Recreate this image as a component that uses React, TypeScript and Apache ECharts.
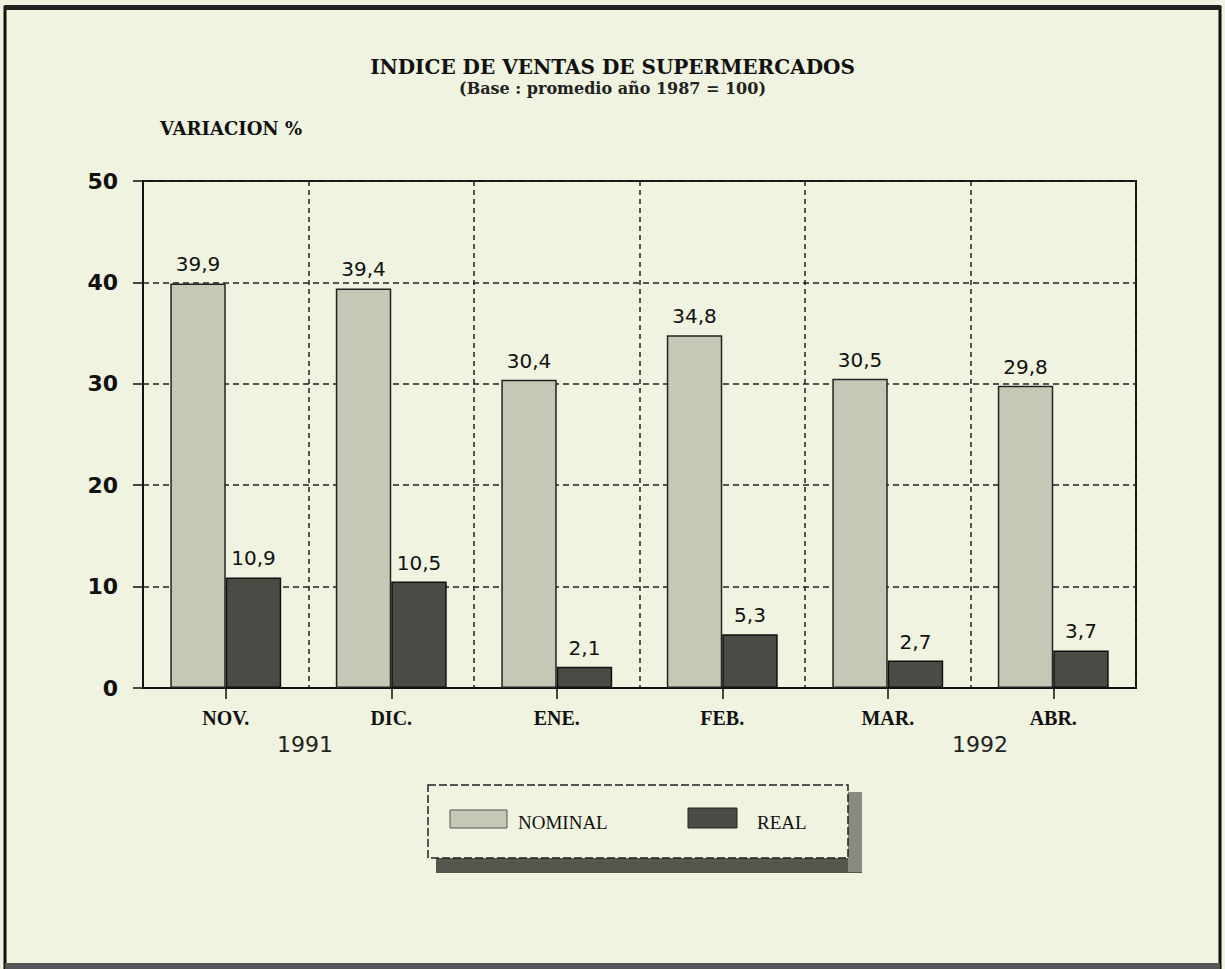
import React, { useEffect, useRef } from "react";
import * as echarts from "echarts";

const categories = ["NOV.", "DIC.", "ENE.", "FEB.", "MAR.", "ABR."];
const nominal = [39.9, 39.4, 30.4, 34.8, 30.5, 29.8];
const real = [10.9, 10.5, 2.1, 5.3, 2.7, 3.7];
const yTicks = [0, 10, 20, 30, 40, 50];
const yearLabels = ["1991", "1992"];

const BG = "#eff3df";
const NOM = "#c6c8b6";
const REAL = "#4a4b44";
const SERIF = "'Liberation Serif', 'DejaVu Serif', serif";
const WSERIF = "'DejaVu Serif', serif";

export default function App() {
  const ref = useRef<HTMLDivElement>(null);
  useEffect(() => {
    if (!ref.current) return;
    const chart = echarts.init(ref.current, null, { renderer: "svg" });
    const fmt = (p: any) => String(p.value).replace(".", ",");
    chart.setOption({
      animation: false,
      backgroundColor: BG,
      title: [
        {
          text: "INDICE DE VENTAS DE SUPERMERCADOS",
          subtext: "(Base : promedio año 1987 = 100)",
          left: "center",
          top: 52,
          itemGap: 3,
          textStyle: { fontFamily: WSERIF, fontWeight: "bold", fontSize: 20, color: "#111" },
          subtextStyle: { fontFamily: WSERIF, fontWeight: "bold", fontSize: 16, color: "#222" },
        },
      ],
      grid: {
        left: 143,
        right: 89,
        top: 181,
        bottom: 281,
        show: true,
        borderColor: "#111",
        borderWidth: 2,
        backgroundColor: "transparent",
      },
      xAxis: {
        type: "category",
        data: categories,
        axisLine: { lineStyle: { color: "#111", width: 2 } },
        axisTick: { show: true, alignWithLabel: true, length: 11, lineStyle: { color: "#111", width: 1.5 } },
        axisLabel: {
          fontFamily: SERIF,
          fontWeight: "bold",
          fontSize: 20,
          color: "#111",
          margin: 20,
        },
        splitLine: { show: true, lineStyle: { type: [5, 4], color: "#222", width: 1.5 } },
      },
      yAxis: {
        type: "value",
        min: yTicks[0],
        max: yTicks[yTicks.length - 1],
        interval: 10,
        axisLine: { show: true, lineStyle: { color: "#111", width: 2 } },
        axisTick: { show: true, length: 10, lineStyle: { color: "#111", width: 1.5 } },
        axisLabel: {
          fontFamily: "'DejaVu Sans', sans-serif",
          fontWeight: "bold",
          fontSize: 22,
          color: "#111",
          margin: 25,
        },
        splitLine: { show: true, lineStyle: { type: [6, 4], color: "#222", width: 1.5 } },
      },
      series: [
        {
          name: "NOMINAL",
          type: "bar",
          data: nominal,
          barGap: "0%",
          barCategoryGap: "33%",
          itemStyle: { color: NOM, borderColor: "#222", borderWidth: 1.5 },
          label: {
            show: true,
            position: "top",
            distance: 9,
            formatter: fmt,
            fontFamily: "'DejaVu Sans', sans-serif",
            fontSize: 20,
            color: "#111",
          },
        },
        {
          name: "REAL",
          type: "bar",
          data: real,
          itemStyle: { color: REAL, borderColor: "#111", borderWidth: 1.5 },
          label: {
            show: true,
            position: "top",
            distance: 9,
            formatter: fmt,
            fontFamily: "'DejaVu Sans', sans-serif",
            fontSize: 20,
            color: "#111",
          },
        },
      ],
      graphic: [
        // outer scan border
        { type: "rect", shape: { x: 5, y: 7, width: 1215, height: 980 }, style: { fill: "none", stroke: "#111", lineWidth: 3 }, silent: true },
        { type: "rect", shape: { x: 5, y: 5, width: 1215, height: 5 }, style: { fill: "#222" }, silent: true },
        { type: "rect", shape: { x: 5, y: 963, width: 1215, height: 6 }, style: { fill: "#555" }, silent: true },
        // y axis name
        {
          type: "text",
          x: 160,
          y: 128,
          style: { text: "VARIACION %", fontFamily: WSERIF, fontWeight: "bold", fontSize: 18, fill: "#111", verticalAlign: "middle" },
        },
        // year labels
        {
          type: "text",
          x: 305,
          y: 744,
          style: { text: yearLabels[0], fontFamily: "'DejaVu Sans', sans-serif", fontSize: 22, fill: "#222", align: "center", verticalAlign: "middle" },
        },
        {
          type: "text",
          x: 980,
          y: 744,
          style: { text: yearLabels[1], fontFamily: "'DejaVu Sans', sans-serif", fontSize: 22, fill: "#222", align: "center", verticalAlign: "middle" },
        },
        // legend shadow
        { type: "rect", shape: { x: 436, y: 858, width: 426, height: 15 }, style: { fill: "#55564e" }, silent: true },
        { type: "rect", shape: { x: 848, y: 792, width: 14, height: 80 }, style: { fill: "#8a8b80" }, silent: true },
        // legend box
        { type: "rect", shape: { x: 428, y: 785, width: 420, height: 73 }, style: { fill: BG, stroke: "#222", lineWidth: 1.5, lineDash: [8, 3] }, silent: true },
        { type: "rect", shape: { x: 450, y: 810, width: 57, height: 18 }, style: { fill: NOM, stroke: "#555", lineWidth: 1 }, silent: true },
        {
          type: "text",
          x: 518,
          y: 822,
          style: { text: "NOMINAL", fontFamily: SERIF, fontSize: 19, fill: "#111", verticalAlign: "middle" },
        },
        { type: "rect", shape: { x: 688, y: 808, width: 49, height: 20 }, style: { fill: REAL, stroke: "#222", lineWidth: 1 }, silent: true },
        {
          type: "text",
          x: 757,
          y: 822,
          style: { text: "REAL", fontFamily: SERIF, fontSize: 19, fill: "#111", verticalAlign: "middle" },
        },
      ],
    });
    return () => chart.dispose();
  }, []);
  return (
    <div
      ref={ref}
      style={{ position: "absolute", left: 0, top: 0, width: 1225, height: 969 }}
    />
  );
}
